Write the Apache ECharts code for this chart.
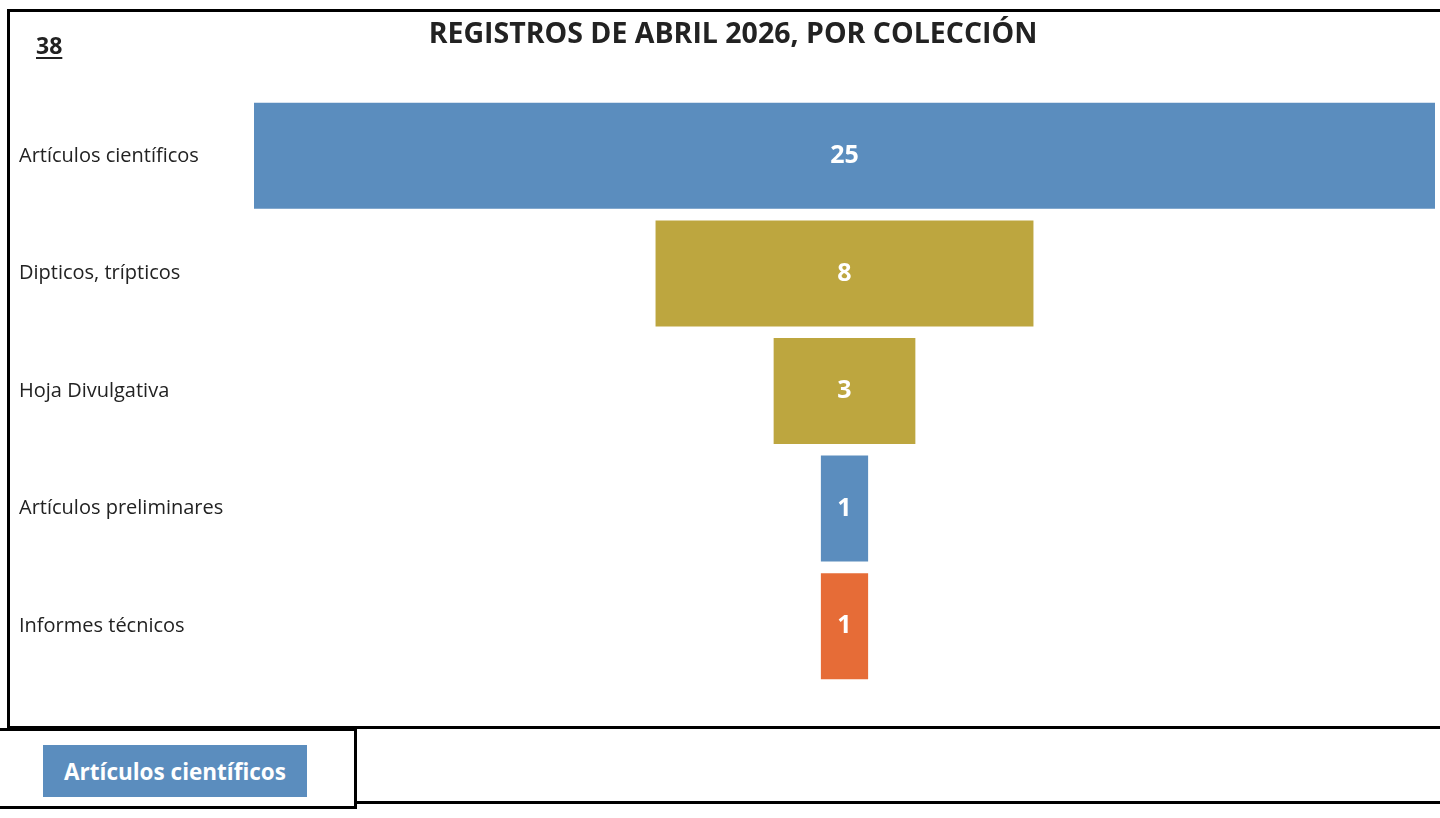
<!DOCTYPE html>
<html>
<head>
<meta charset="utf-8">
<script src="https://cdn.jsdelivr.net/npm/echarts@6/dist/echarts.min.js"></script>
<style>
  html, body { margin: 0; padding: 0; background: #fff; }
  body { width: 1440px; height: 818px; position: relative; overflow: hidden; font-family: 'Open Sans', 'Noto Sans', sans-serif; }
  #chart { position: absolute; left: 0; top: 0; width: 1440px; height: 818px; }
  .line { position: absolute; background: #000; }
  .total { position: absolute; left: 36px; top: 29px; font-size: 23px; font-weight: bold; color: #222; text-decoration: underline; text-underline-offset: 3px; }
  .btn { position: absolute; left: 43px; top: 745px; width: 264px; height: 52px; background: #5B8DBE; color: #fff; font-size: 22.5px; font-weight: bold; line-height: 54px; text-align: center; }
</style>
</head>
<body>
<div id="chart"></div>
<!-- frame lines -->
<div class="line" style="left:7px;top:9px;width:1433px;height:3px"></div>
<div class="line" style="left:7px;top:9px;width:3px;height:720px"></div>
<div class="line" style="left:7px;top:726px;width:1433px;height:3px"></div>
<div class="line" style="left:0;top:728px;width:357px;height:3px"></div>
<div class="line" style="left:354px;top:728px;width:3px;height:81px"></div>
<div class="line" style="left:0;top:806px;width:357px;height:3px"></div>
<div class="line" style="left:356px;top:801px;width:1084px;height:3px"></div>
<div class="total">38</div>
<div class="btn">Artículos científicos</div>
<script>
const categories = ['Artículos científicos', 'Dipticos, trípticos', 'Hoja Divulgativa', 'Artículos preliminares', 'Informes técnicos']
const values = [25, 8, 3, 1, 1]
const colors = ['#5B8DBE', '#BDA63F', '#BDA63F', '#5B8DBE', '#E66C37']
const maxValue = 25

const chart = echarts.init(document.getElementById('chart'))

chart.setOption({
  animation: false,
  title: {
    text: 'REGISTROS DE ABRIL 2026, POR COLECCIÓN',
    left: 728,
    textAlign: 'center',
    top: 15,
    textStyle: {
      fontFamily: 'Open Sans',
      fontSize: 28.5,
      fontWeight: 'bold',
      color: '#222'
    }
  },
  grid: {
    left: 254,
    right: 5,
    top: 97,
    bottom: 133
  },
  xAxis: {
    type: 'value',
    min: 0,
    max: maxValue,
    show: false
  },
  yAxis: {
    type: 'category',
    inverse: true,
    data: categories,
    axisLine: { show: false },
    axisTick: { show: false },
    axisLabel: {
      align: 'left',
      margin: 235,
      padding: [3, 0, 0, 0],
      fontFamily: 'Open Sans',
      fontSize: 20,
      color: '#222'
    }
  },
  series: [
    {
      type: 'bar',
      stack: 'funnel',
      barWidth: 106,
      silent: true,
      itemStyle: { color: 'transparent' },
      data: values.map(v => (maxValue - v) / 2)
    },
    {
      type: 'bar',
      stack: 'funnel',
      barWidth: 106,
      label: {
        show: true,
        position: 'inside',
        color: '#fff',
        fontFamily: 'Open Sans',
        fontSize: 25,
        fontWeight: 'bold'
      },
      data: values.map((v, i) => ({ value: v, itemStyle: { color: colors[i] } }))
    }
  ]
})
</script>
</body>
</html>
